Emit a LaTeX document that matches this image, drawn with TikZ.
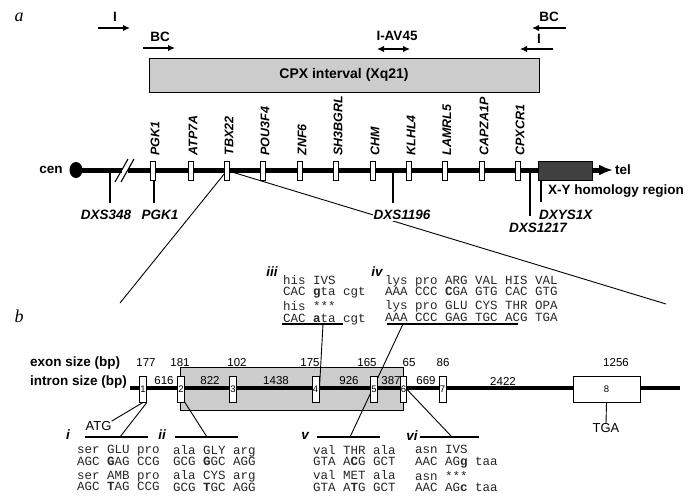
\documentclass[tikz,border=0pt]{standalone}
\usepackage{fontspec}
\setmainfont{Liberation Sans}
\setmonofont{Liberation Mono}
\newfontfamily\panelfont{Liberation Serif}
\usetikzlibrary{positioning,arrows.meta}

\tikzset{
  ptip/.tip={Latex[length=7pt,width=6.5pt]},
  lab/.style={font=\fontsize{13.5}{13.5}\selectfont\bfseries,inner sep=0pt},
  gene/.style={draw,fill=white,line width=0.8pt,minimum width=5pt,minimum height=19pt,inner sep=0pt},
  genelab/.style={font=\fontsize{12.5}{12.5}\selectfont\bfseries\itshape,rotate=90,anchor=west,inner sep=0pt},
  locus/.style={font=\fontsize{13.5}{13.5}\selectfont\bfseries\itshape,fill=white,inner sep=1pt},
  tick/.style={line width=2pt},
  exonbox/.style={draw,fill=white,line width=0.8pt,minimum width=7pt,minimum height=26pt,inner sep=0pt,font=\fontsize{9.5}{9.5}\selectfont},
  bp/.style={font=\fontsize{11.5}{11.5}\selectfont,inner sep=0pt},
  seqtext/.style={font=\fontsize{12.5}{11.5}\selectfont\ttfamily,text=black!85,align=left,inner sep=0pt,anchor=north west},
  roman/.style={font=\fontsize{13.5}{13.5}\selectfont\bfseries\itshape,inner sep=0pt},
  primer/.style={-ptip,line width=1.8pt},
  linkline/.style={line width=0.9pt},
  panel/.style={font=\fontsize{18}{18}\panelfont\itshape,inner sep=0pt},
}

\begin{document}
\begin{tikzpicture}[x=1pt,y=-1pt]
\useasboundingbox (0,0) rectangle (692,495);

% panel a: primers over the interval
\node[panel] (pa) at (19,17) {a};
\coordinate (iL1) at (98,28);   \coordinate (iL2) at (130,28);
\coordinate (bcL1) at (143,48); \coordinate (bcL2) at (175,48);
\coordinate (av1) at (377,49);  \coordinate (av2) at (410,49);
\coordinate (bcR1) at (566,28); \coordinate (bcR2) at (532,28);
\coordinate (iR1) at (553,49);  \coordinate (iR2) at (520,49);
\draw[primer] (iL1) -- (iL2);
\draw[primer] (bcL1) -- (bcL2);
\draw[primer,ptip-ptip] (av1) -- (av2);
\draw[primer] (bcR1) -- (bcR2);
\draw[primer] (iR1) -- (iR2);
\node[lab] (lI1) at (115,17) {I};
\node[lab] (lBC1) at (160,37) {BC};
\node[lab] (lAV) at (397,36) {I-AV45};
\node[lab] (lBC2) at (549,17) {BC};
\node[lab] (lI2) at (539,39) {I};
\node[draw,fill=black!20,line width=0.9pt,minimum width=390pt,minimum height=34pt,inner sep=0pt,
  font=\fontsize{14}{14}\selectfont\bfseries] (cpx) at (344,75) {CPX interval (Xq21)};

% chromosome
\coordinate (c0) at (76,170);
\coordinate (b1) at (121.8,170);
\coordinate (b2) at (127.8,170);
\coordinate (c1) at (613,170);
\coordinate (tbx) at (227,170.5);
\coordinate (zl) at (120,303);
\coordinate (zr) at (666,304);
\draw[linkline] (tbx) -- (zl);
\draw[linkline] (tbx) -- (zr);
\draw[line width=5pt] (c0) -- (b1);
\draw[line width=5pt,-{Latex[length=14pt,width=11pt]}] (b2) -- (c1);
\draw[line width=1.1pt] (115,182) -- (128,159) (121,182) -- (134,159);
\fill (c0) ellipse (6.5 and 8);
\node[lab] (cen) at (51,170) {cen};
\node[lab,anchor=west] (tel) at (615,170) {tel};
\node[draw,fill=black!75,line width=0.8pt,minimum width=54pt,minimum height=19pt,inner sep=0pt] (xy) at (565,170.5) {};
\node[lab,anchor=west] (xylab) at (548,191) {X-Y homology region};

\foreach \x/\g in {153/PGK1,191/ATP7A,227/TBX22,263/POU3F4,300/ZNF6,336/SH3BGRL,
                   373/CHM,409/KLHL4,445/LAMRL5,482/CAPZA1P,518/CPXCR1}{
  \node[gene] (g-\g) at (\x,170.5) {};
  \node[genelab] (gl-\g) at ([xshift=2pt,yshift=5pt]g-\g.north) {\g};
}

% markers below the map
\coordinate (t348) at (110,170);
\coordinate (t1196) at (393,170);
\coordinate (t1217) at (530,170);
\draw[tick] (t348) -- ++(0,33);
\draw[tick] ([xshift=1pt]g-PGK1.south) -- ++(0,23);
\draw[tick] (t1196) -- ++(0,33);
\draw[tick] (t1217) -- ++(0,46);
\draw[tick] (xy.south west) ++(3,0) -- ++(0,22);
\node[locus] (dxs348) at (106,215) {DXS348};
\node[locus] (pgk1m) at (160,215) {PGK1};
\node[locus] (dxs1196) at (402,215) {DXS1196};
\node[locus] (dxs1217) at (538,228) {DXS1217};
\node[locus,anchor=west] (dxys1x) at (538,215) {DXYS1X};

% panel b: mutations
\node[panel] (pb) at (19,316) {b};
\node[roman] (r3) at (272,272) {iii};
\node[roman] (r4) at (377,272) {iv};
\node[roman] (r1) at (68,435) {i};
\node[roman] (r2) at (162,435) {ii};
\node[roman] (r5) at (305,436) {v};
\node[roman] (r6) at (412,436) {vi};
\node[seqtext] (s3) at (283,275) {his IVS\\CAC \textbf{g}ta cgt\\[2.5pt]his ***\\CAC \textbf{a}ta cgt};
\node[seqtext] (s4) at (385,275) {lys pro ARG VAL HIS VAL\\AAA CCC \textbf{C}GA GTG CAC GTG\\[2.5pt]lys pro GLU CYS THR OPA\\AAA CCC GAG TGC ACG TGA};
\node[seqtext] (s1) at (77,445) {ser GLU pro\\AGC \textbf{G}AG CCG\\[2.5pt]ser AMB pro\\AGC \textbf{T}AG CCG};
\node[seqtext] (s2) at (173,445) {ala GLY arg\\GCG \textbf{G}GC AGG\\[2.5pt]ala CYS arg\\GCG \textbf{T}GC AGG};
\node[seqtext] (s5) at (313,445) {val THR ala\\GTA A\textbf{C}G GCT\\[2.5pt]val MET ala\\GTA A\textbf{T}G GCT};
\node[seqtext] (s6) at (415,445) {asn IVS\\AAC AG\textbf{g} taa\\[2.5pt]asn ***\\AAC AG\textbf{c} taa};

\foreach \n/\a/\b/\m/\y in {1/85/148/120/437,2/175/238/207/437,3/282/343/323/324,
                            4/387/518/403/324,5/317/380/350/437,6/420/479/452/437}{
  \coordinate (u\n a) at (\a,\y);
  \coordinate (u\n b) at (\b,\y);
  \coordinate (j\n) at (\m,\y);
  \draw[line width=1.1pt] (u\n a) -- (u\n b);
}

% gene structure
\node[lab,anchor=west] (exl) at (30,363) {exon size (bp)};
\node[lab,anchor=west] (inl) at (30,382) {intron size (bp)};
\foreach \x/\v in {146/177,180/181,237/102,310/175,367/165,409/65,443/86,616/1256}
  \node[bp] (es-\v) at (\x,363) {\v};
\coordinate (x0) at (130,388);
\coordinate (x1) at (680,388);
\node[draw,fill=black!20,line width=0.8pt,minimum width=223pt,minimum height=43pt,inner sep=0pt] (mutbox) at (291.5,388.5) {};
\foreach \x/\v in {164/616,210/822,276/1438,349/926,391/387,426/669,503/2422}
  \node[bp] (is-\v) at (\x,381) {\v};
\draw[line width=4pt] (x0) -- (x1);
\draw[linkline] (j4) -- (j5);
\foreach \n/\x in {1/143,2/181,3/233,4/315.5,5/374,7/442.5}
  \node[exonbox] (e\n) at (\x,389) {\n};
\node[exonbox,minimum width=5pt] (e6) at (403.5,389) {6};
\node[exonbox,minimum width=67pt] (e8) at (606.5,389) {8};
\node[font=\fontsize{13}{13}\selectfont,inner sep=0pt] (atg) at (98.5,426) {ATG};
\node[font=\fontsize{13}{13}\selectfont,inner sep=0pt] (tga) at (606,428) {TGA};

\draw[linkline] (j3) -- (e4.east);
\draw[linkline] (e6.east) -- (j6);
\draw[linkline] (e2.south east) -- (j2);
\draw[linkline] (e1.south east) -- (j1);
\draw[linkline] (e1.south) -- (atg.north east);
\draw[linkline] (e8.south) -- (tga.north);
\end{tikzpicture}
\end{document}
